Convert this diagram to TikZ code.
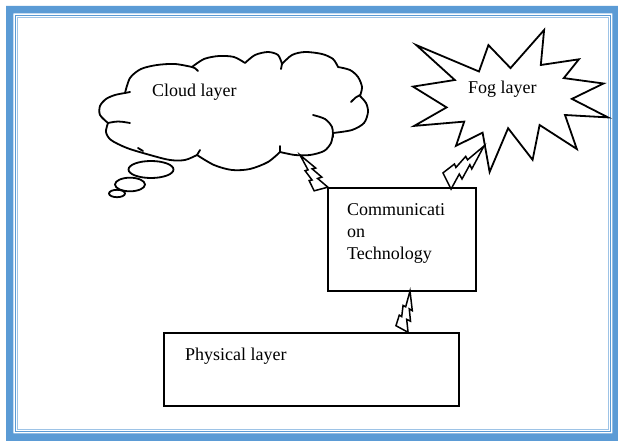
\documentclass[tikz,border=0pt]{standalone}
\usepackage{fontspec}
\setmainfont{Liberation Serif}
\usetikzlibrary{calc}
\definecolor{frameblue}{HTML}{5B9BD5}
\definecolor{framelight}{HTML}{9DC3E6}

% lightning bolt from a tip coordinate to the centre of its flat end
\newcommand\bolt[2]{%
  \draw[boltline] (#1)
    -- ($(#1)!0.4836!(#2)!-0.3358!90:(#1)$)
    -- ($(#1)!0.4543!(#2)!-0.1670!90:(#1)$)
    -- ($(#1)!0.7585!(#2)!-0.2287!90:(#1)$)
    -- ($(#1)!0.7311!(#2)!-0.0908!90:(#1)$)
    -- ($(#1)!1.0514!(#2)!-0.1619!90:(#1)$)
    -- ($(#1)!0.9487!(#2)!0.1793!90:(#1)$)
    -- ($(#1)!0.6641!(#2)!0.2138!90:(#1)$)
    -- ($(#1)!0.6899!(#2)!0.1053!90:(#1)$)
    -- ($(#1)!0.4009!(#2)!0.2459!90:(#1)$)
    -- ($(#1)!0.4217!(#2)!0.0591!90:(#1)$)
    -- cycle;}

\tikzset{
  outline/.style={draw=black, line width=1.8pt, fill=white, line join=round},
  tick/.style={draw=black, line width=1.8pt, line cap=round},
  boltline/.style={draw=black, line width=1.5pt, fill=white, line join=miter},
  layerbox/.style={draw=black, line width=1.9pt, fill=white, inner sep=0pt},
  label/.style={inner sep=0pt, font=\fontsize{18}{21.8}\selectfont, align=left},
}

\begin{document}
\begin{tikzpicture}[x=1pt, y=-1pt]
\useasboundingbox (0,0) rectangle (618,441);
\fill[white] (0,0) rectangle (618,441);

% page frame
\fill[frameblue, even odd rule] (6,6) rectangle (626,449) (13.3,13.3) rectangle (612.3,433.3);
\draw[frameblue, line width=1pt] (15.5,15.5) rectangle (610.5,431.5);
\draw[framelight, line width=1pt] (17.5,17.5) rectangle (608.5,429.5);

% thought bubbles under the cloud
\draw[outline] (151,169.5) ellipse [x radius=22.5, y radius=8.5];
\draw[outline] (130,184.5) ellipse [x radius=15, y radius=6.8];
\draw[outline] (117,193.5) ellipse [x radius=8, y radius=3.7];

% cloud
\draw[outline]
  plot[smooth] coordinates {(125,93) (130,78) (141,69) (157,65) (175,64) (192,67)}
  -- plot[smooth] coordinates {(192,67) (204,59) (219,56) (234,57) (245,63)}
  -- plot[smooth] coordinates {(245,63) (255,55) (268,52) (278,55) (282,64)}
  -- plot[smooth] coordinates {(282,64) (292,55) (305,52) (322,54) (333,59) (338,67)}
  -- plot[smooth] coordinates {(338,67) (350,70) (358,77) (362,87) (360,96)}
  -- plot[smooth] coordinates {(360,96) (366,103) (368,112) (364,123) (352,130) (333,133)}
  -- plot[smooth] coordinates {(333,133) (331,143) (324,151) (310,155) (295,155) (280,152)}
  -- plot[smooth] coordinates {(280,152) (268,162) (250,169) (232,170) (214,165) (197,155)}
  -- plot[smooth] coordinates {(197,155) (185,160) (170,160) (150,155) (127,148) (111,140) (106,132) (108,123)}
  -- plot[smooth] coordinates {(108,123) (100,115) (100,106) (106,99) (115,95) (125,93)}
  -- cycle;
\draw[tick] (192,67) .. controls (195,68) .. (198,71);
\draw[tick] (282,64) .. controls (282,66) .. (281,69);
\draw[tick] (360,95) .. controls (356,97) .. (351,102);
\draw[tick] plot[smooth] coordinates {(313,115) (325,119) (332,127) (333,137)};
\draw[tick] (280,152) .. controls (280,149) .. (280,146);
\draw[tick] (197,155) .. controls (198,152) .. (200,150);
\draw[tick] (108,123) .. controls (118,121) .. (130,123);
\draw[tick] (125,93) .. controls (127,92) .. (130,92);
\draw[tick] (138,148) .. controls (140,149) .. (143,151);
\node[label, anchor=base west] (cloud) at (152,97) {Cloud layer};
\coordinate (cloudtip) at (300,155);

% fog burst
\draw[outline, line join=miter]
  (510.5,68.1) -- (544.1,30) -- (540.8,65.0) -- (578.9,59.3) -- (563.8,78.1)
  -- (603.5,83.5) -- (571.9,98.9) -- (608,117.4) -- (565,115) -- (576.8,149)
  -- (539.6,125) -- (532.6,159.8) -- (508.1,128.2) -- (489.6,172) -- (482.6,132.7)
  -- (456,145.8) -- (464.2,121.6) -- (414.2,125.9) -- (446.6,107.4) -- (413,86.6)
  -- (454.8,80) -- (416.3,45.1) -- (479,71.5) -- (488.4,45.1) -- cycle;
\node[label, anchor=base west] (fog) at (468,94) {Fog layer};
\coordinate (fogtip) at (484,146);

% communication box
\node[layerbox, minimum width=148pt, minimum height=103pt, anchor=north west] (comm) at (327,187) {};
\node[label, anchor=base west] (commtext) at (347,259) {Communicati\\on\\Technology};

% physical box
\node[layerbox, minimum width=295pt, minimum height=73pt, anchor=north west] (phys) at (163,332) {};
\node[label, anchor=base west] (physlabel) at (185,360) {Physical layer};

% wireless links
\coordinate (commin1) at ($(comm.north west)+(-6,2)$);
\coordinate (commin2) at (447,181);
\coordinate (commout) at (410,291);
\coordinate (physin) at (402,329);
\bolt{cloudtip}{commin1}
\bolt{fogtip}{commin2}
\bolt{commout}{physin}
\end{tikzpicture}
\end{document}
